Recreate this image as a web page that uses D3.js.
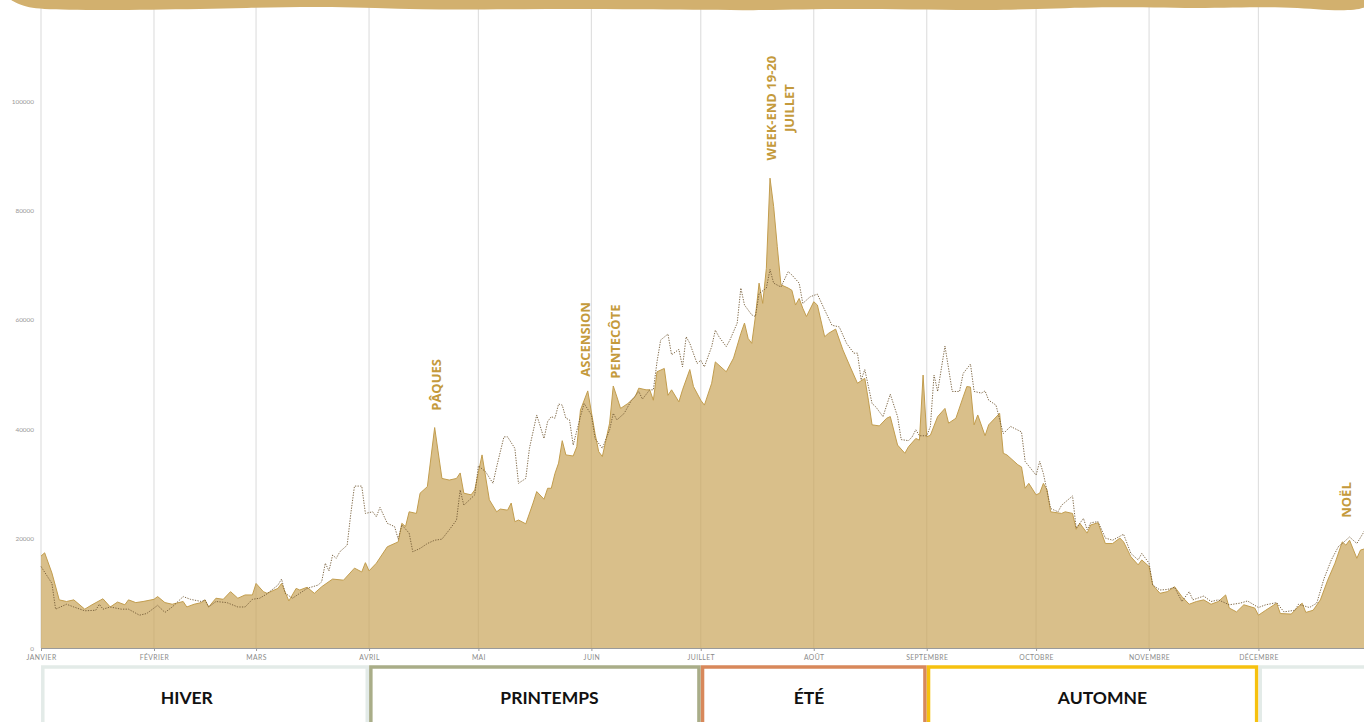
<!DOCTYPE html>
<html><head><meta charset="utf-8">
<script src="https://cdn.jsdelivr.net/npm/d3@7"></script>
<style>body{margin:0;background:#fff;overflow:hidden} svg{display:block}</style>
</head><body><svg id="c" width="1364" height="722"></svg>
<script>
// ---------- DATA ----------
const months = ["JANVIER","FÉVRIER","MARS","AVRIL","MAI","JUIN","JUILLET","AOÛT","SEPTEMBRE","OCTOBRE","NOVEMBRE","DÉCEMBRE"];
const monthStartDays = [0,31,59,90,120,151,181,212,243,273,304,334];
const yTicks = [0,20000,40000,60000,80000,100000];

// current year (filled area): day of year, visitors
const daysCur = [0,1,3,5,7,9,12,14,17,19,21,23,24,26,28,31,32,34,36,39,40,42,44,45,46,48,50,52,54,56,58,59,61,62,65,66,68,70,71,73,75,77,80,83,86,88,89,90,92,95,98,99,100,101,103,104,106,108,110,112,114,115,116,118,119,121,123,125,126,128,129,130,131,133,135,136,138,139,140,141,142,143,144,146,147,148,150,152,153,154,156,157,158,159,161,163,164,166,167,168,169,171,172,173,175,176,178,179,181,182,184,185,188,190,192,193,194,195,196,197,198,199,200,201,202,203,205,206,207,208,209,210,212,213,215,216,218,220,222,224,226,227,228,230,232,233,235,237,238,240,241,242,243,244,246,248,249,251,253,254,255,256,257,259,260,263,264,265,268,269,270,271,273,274,275,276,277,280,281,283,284,285,287,288,290,292,294,296,297,299,301,302,304,305,307,309,311,313,315,317,319,321,323,325,326,328,330,333,334,336,339,340,343,344,346,347,349,351,353,355,357,358,359,361,362,364];
const valsCur = [16800,17400,13700,8800,8500,8800,7100,7900,9000,7500,8400,7900,8800,8300,8500,8900,9400,8300,8000,8500,7500,8000,8300,8800,7500,9100,8900,10300,9100,9700,9700,11800,10300,10000,10900,11800,8600,10900,10600,11100,10000,11200,12600,12400,14600,13900,15600,14100,15500,18500,19400,22800,22200,24900,24600,28300,29500,40300,31000,30700,31000,32000,28300,28000,28900,35300,27100,24900,25400,25200,26500,23100,23400,22700,26500,28600,27200,29200,29200,31900,33800,37900,35300,35100,36800,43500,47000,39200,35900,35000,41100,47900,45900,43800,44700,45900,47500,47200,47200,45300,50500,51100,46200,47200,45000,47200,50900,47800,45300,44400,48400,52300,50500,53000,57500,59400,56600,55700,60600,66700,63000,69400,85900,80700,73400,66400,65800,65400,62700,63900,62100,60600,63300,62700,56900,57500,58300,54500,51400,48400,49300,45300,40800,40600,42000,42300,37100,35600,36800,38300,38000,49900,38600,38900,42300,43800,41100,42000,45900,47800,47700,40800,42600,38800,40800,42900,35600,35300,33500,33100,29200,30100,28000,28300,30100,28900,24900,24600,24900,24600,21700,22800,21000,22500,22900,19100,19100,20100,19400,16700,15200,16100,14900,11500,10000,10300,11200,9400,8000,8500,8800,8000,8500,9700,7300,6600,7900,7300,6000,6900,8200,6300,6200,6900,8200,6500,6900,8800,12400,15500,19400,18800,19700,16400,17900,18300];

// previous year (dotted line)
const daysPrev = [0,3,4,7,9,12,15,16,17,19,22,24,27,29,31,32,34,36,39,41,44,45,46,48,51,54,56,58,60,62,65,66,67,69,71,73,76,77,78,79,80,81,82,84,85,86,88,89,91,92,93,95,97,98,99,101,102,104,106,108,110,112,114,115,116,119,120,122,124,125,127,128,130,131,133,134,136,138,139,140,141,142,143,144,145,146,148,149,151,152,154,156,157,158,160,162,164,165,167,168,169,170,172,173,175,176,177,178,180,181,182,184,185,186,188,189,191,192,193,195,196,197,199,200,201,203,205,206,208,209,211,213,215,217,219,221,223,224,225,226,228,229,231,233,235,236,238,239,240,241,243,244,245,246,248,250,252,253,255,256,258,259,260,262,264,266,269,270,273,274,275,277,279,280,283,284,286,287,288,290,292,294,297,299,301,302,304,305,307,309,311,313,315,316,319,321,323,326,329,331,334,336,339,341,344,345,348,350,352,354,356,357,359,361,363,364];
const valsPrev = [14900,11800,7100,8000,7500,6800,6900,8000,7100,7500,7100,7100,6000,6300,7300,7800,6500,7500,9400,8900,8500,8800,7500,8500,8300,7500,7500,8900,9100,9900,11500,12600,10000,9100,10000,10900,11500,12100,15500,14100,17000,16400,17600,18800,24600,29600,29600,24600,24900,24000,25700,22800,22200,19900,22500,21000,17600,18200,19100,19700,19900,21600,23400,28900,26100,28000,33300,32200,30100,33100,38600,38600,36500,30100,31000,36500,42600,38300,41400,42300,42000,44600,44400,42000,41700,37100,42300,44700,42600,38300,36500,39900,42900,41700,42900,45300,46900,45500,47200,47200,52300,56300,57400,53600,54600,51400,56900,55700,52000,52600,51400,55100,58100,56900,55100,56300,59400,65800,62700,60900,60600,64800,65800,69200,66700,66000,68800,68200,66700,63000,64200,64700,61800,59000,58700,55700,53900,53900,49000,50900,44700,44100,42300,46400,42300,38100,37900,38600,39900,38800,38800,40500,49900,46900,55200,46900,46900,50200,51900,46900,46600,47000,45300,44400,39200,40500,39500,34100,31600,34100,31900,25500,24900,26100,27800,21900,23700,21600,22900,23100,20100,19700,20800,17300,16100,17300,15500,11500,10600,10700,11100,8500,10300,8800,9500,8500,8800,7900,8200,8600,7400,7900,8300,6600,6900,8000,7400,8200,12700,16100,18600,19100,20300,19100,21300,22000];

// annotations: label lines, day, value level of the label centre
const annLabels = [["PÂQUES"],["ASCENSION"],["PENTECÔTE"],["WEEK-END 19-20","JUILLET"],["NOËL"]];
const annDays = [108.4,149.2,157.5,202.7,358];
const annLevels = [48100,56400,56000,98700,27050];

// seasons
const seasonNames = ["HIVER","PRINTEMPS","ÉTÉ","AUTOMNE",""];
const seasonStart = [0,90,181,243,334];
const seasonEnd = [90,181,243,334,372];
const seasonLabelDays = [40,139.5,210.7,291.2,null];
const seasonColors = ["#e3ebe8","#a9ad88","#d8885b","#f6c10f","#e3ebe8"];

// ---------- CHART ----------
const W = 1364, H = 722;
const svg = d3.select("#c");
const x = d3.scaleLinear().domain([0,365]).range([41, 41 + 365*3.645]);
const y = d3.scaleLinear().domain([0,100000]).range([648, 101]);

const cur = daysCur.map((d,i)=>({d, v: valsCur[i]}));
const prev = daysPrev.map((d,i)=>({d, v: valsPrev[i]}));

// gridlines
svg.append("g").selectAll("line").data(monthStartDays).join("line")
  .attr("x1", d=>x(d)).attr("x2", d=>x(d)).attr("y1", 0).attr("y2", 648)
  .attr("stroke", "#e0e0e0").attr("stroke-width", 1.2);

// area
svg.append("path").datum(cur)
  .attr("d", d3.area().x(d=>x(d.d)).y0(y(0)).y1(d=>y(d.v)))
  .attr("fill", "#c9a459").attr("fill-opacity", 0.7);
svg.append("path").datum(cur)
  .attr("d", d3.line().x(d=>x(d.d)).y(d=>y(d.v)))
  .attr("fill", "none").attr("stroke", "#c29d4e").attr("stroke-width", 1);

// dotted previous year
svg.append("path").datum(prev)
  .attr("d", d3.line().x(d=>x(d.d)).y(d=>y(d.v)))
  .attr("fill", "none").attr("stroke", "#735a35").attr("stroke-width", 0.9)
  .attr("stroke-dasharray", "1.3,1.3");

// x axis
const xAxis = d3.axisBottom(x).tickValues(monthStartDays).tickSize(3).tickFormat((d,i)=>months[i]);
const gx = svg.append("g").attr("transform", "translate(0,648)").call(xAxis);
gx.select(".domain").attr("stroke", "#9a9a9a").attr("d", `M${x(0)},0.5H${W}`);
gx.selectAll(".tick line").attr("stroke", "#9a9a9a");
gx.selectAll(".tick text").attr("y", 7).attr("font-family", "Lato, sans-serif")
  .attr("font-size", 6.8).attr("fill", "#8a8a8a").attr("letter-spacing", 0.4);

// y axis labels
const yAxis = d3.axisLeft(y).tickValues(yTicks).tickSize(0).tickFormat(d3.format("d"));
const gy = svg.append("g").attr("transform", "translate(34,0)").call(yAxis);
gy.select(".domain").remove();
gy.selectAll(".tick text").attr("x", 0).attr("font-family", "Lato, sans-serif")
  .attr("font-size", 6.4).attr("fill", "#999");

// annotations
annLabels.forEach((lines, i) => {
  const t = svg.append("text")
    .attr("transform", `translate(${x(annDays[i])},${y(annLevels[i])}) rotate(-90)`)
    .attr("text-anchor", "middle").attr("font-family", "'Open Sans', sans-serif")
    .attr("font-weight", 700).attr("font-size", 13).attr("fill", "#c49a3c");
  const n = lines.length;
  lines.forEach((s, j) => {
    t.append("tspan").attr("x", 0)
      .attr("y", (j - (n-1)/2) * 18)
      .attr("dy", "0.36em").text(s);
  });
});

// wavy banner
const bannerPts = [[6,-4],[12,1],[26,8],[60,10],[150,10],[250,8],[330,6],[420,10],[520,9],[640,9],[760,11],[840,8],[1000,11.5],[1090,6],[1200,9],[1280,6],[1330,11],[1370,10],[1370,-4]];
svg.append("path")
  .attr("d", d3.line().curve(d3.curveBasis)(bannerPts) + "Z")
  .attr("fill", "#d2b06e");

// season boxes
const sw = 3.5;
seasonNames.forEach((name, i) => {
  const x0 = x(seasonStart[i]) + 1.8, x1 = Math.min(x(seasonEnd[i]) - 1.8, W + 10);
  svg.append("rect").attr("x", x0).attr("y", 667).attr("width", x1 - x0).attr("height", 80)
    .attr("fill", "#fff").attr("stroke", seasonColors[i]).attr("stroke-width", sw);
});
seasonNames.forEach((name, i) => {
  if (!name) return;
  svg.append("text").attr("x", x(seasonLabelDays[i])).attr("y", 704)
    .attr("text-anchor", "middle").attr("font-family", "Lato, sans-serif")
    .attr("font-weight", 700).attr("font-size", 17.5).attr("fill", "#111")
    .text(name);
});
</script></body></html>
